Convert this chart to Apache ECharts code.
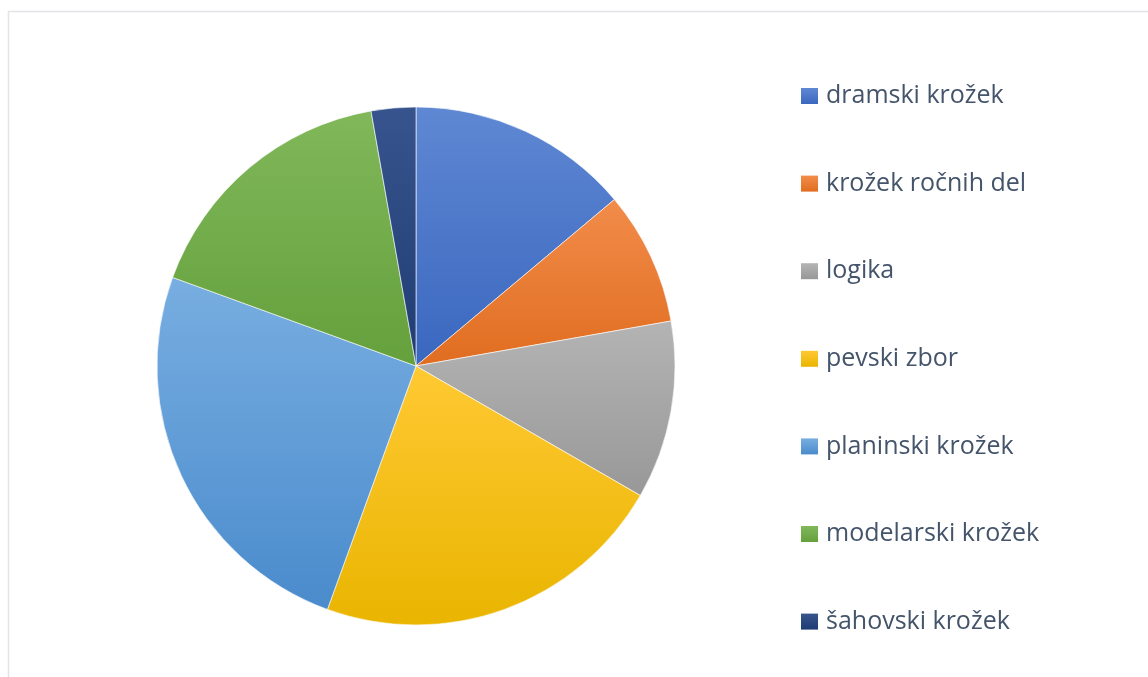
<!DOCTYPE html>
<html><head><meta charset="utf-8">
<script src="https://cdn.jsdelivr.net/npm/echarts@6/dist/echarts.min.js"></script>
<style>html,body{margin:0;padding:0;background:#fff;}#c{width:1148px;height:677px;}</style>
</head><body><div id="c"></div>
<script>
const categories = ['dramski krožek','krožek ročnih del','logika','pevski zbor','planinski krožek','modelarski krožek','šahovski krožek'];
const values = [5,3,4,8,9,6,1];
const topColors = ['#5f88d3','#f28c4a','#b4b4b4','#ffc933','#78aee1','#81b85a','#37548e'];
const bottomColors = ['#3a67bf','#e06d20','#989898','#e9b500','#4a8bcc','#64a03c','#1f3c73'];
const chart = echarts.init(document.getElementById('c'), null, {renderer:'canvas'});
const grad = i => new echarts.graphic.LinearGradient(0,0,0,1,[{offset:0,color:topColors[i]},{offset:1,color:bottomColors[i]}]);
const data = categories.map((n,i)=>({name:n, value:values[i], itemStyle:{color:grad(i)}}));
chart.setOption({
  animation:false,
  graphic:[{type:'rect',shape:{x:8.5,y:11.5,width:1200,height:700},style:{fill:'none',stroke:'#e1e4e8',lineWidth:1.5},silent:true}],
  legend:{orient:'vertical',left:801,top:83,padding:0,itemWidth:17,itemHeight:16,itemGap:61.6,icon:'rect',
    itemStyle:{borderWidth:0},
    textStyle:{fontFamily:'Open Sans',fontSize:25,color:'#44546a',lineHeight:26,padding:[0,0,0,3]},
    data:categories.map((n,i)=>({name:n,itemStyle:{color:grad(i),borderWidth:0}}))},
  series:[{type:'pie',center:[416,366],radius:[0,259],startAngle:90,clockwise:true,
    label:{show:false},labelLine:{show:false},
    itemStyle:{borderColor:'rgba(255,255,255,0.6)',borderWidth:1},
    emphasis:{disabled:true},
    data:data}]
});
</script></body></html>
